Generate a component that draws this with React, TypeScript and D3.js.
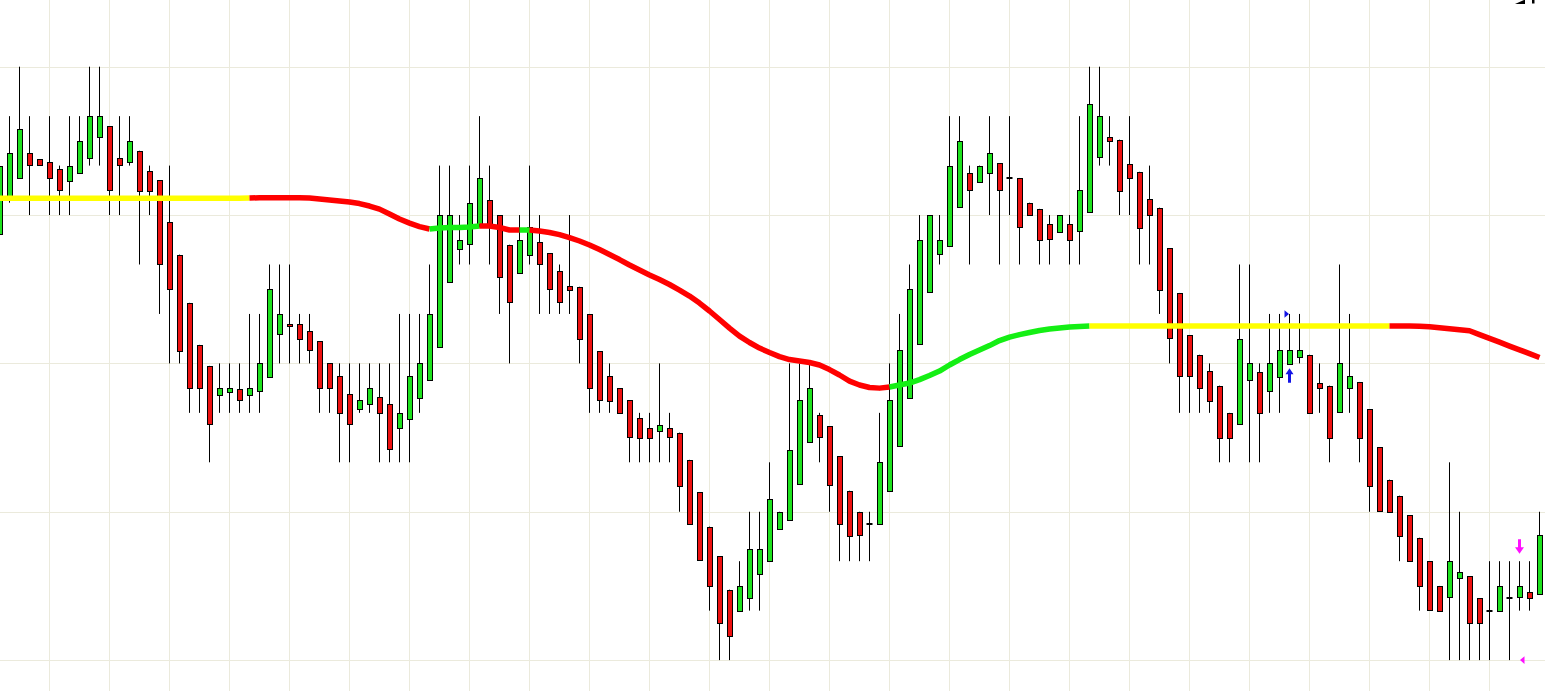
import React from 'react';
import * as d3 from 'd3';

const WIDTH = 1545;
const HEIGHT = 691;

// OHLC per bar, in price ticks (one horizontal grid step = 12 ticks)
const opens = [
  46.5, 49.5, 51, 53, 52.5, 52.3, 51.7, 50.8, 51.4, 52.6, 54.3, 55.2, 52.6, 52.3, 53.2, 51.6, 50.8, 47.4, 44.8, 40.9,
  37.5, 35.8, 33.4, 33.7, 33.9, 33.4, 33.7, 34.9, 38.4, 39.2, 39.2, 38.6, 37.8, 36, 35, 33.5, 32.3, 32.7, 33.3, 32.7,
  30.8, 31.5, 33.2, 34.7, 37.3, 42.6, 45.3, 45.7, 47.3, 49.2, 48, 45.6, 43.3, 44.7, 45.8, 44.9, 43.5, 42.3, 42.2, 40,
  37, 35, 34, 33, 31.6, 30.8, 30.5, 30.75, 30.4, 28.2, 25.6, 22.8, 20.4, 17.7, 16, 17, 19, 20, 22.6, 23.3,
  26.2, 29.6, 31.8, 30.9, 28.5, 25.7, 24, 23, 23, 25.6, 29.3, 33.2, 37.6, 41.8, 44.9, 45.5, 48.7, 51.4, 50.7, 51.4,
  52.2, 51, 51, 49, 48.5, 47.25, 46.6, 47.3, 46.7, 48.3, 52.7, 54.3, 54.1, 52.1, 51.5, 49.3, 48.6, 45.3, 41.7, 38.3,
  36.7, 35.4, 34.2, 32, 31.1, 34.6, 35.3, 33.7, 34.9, 36, 36.5, 36.7, 34.4, 34.2, 32, 34, 34.5, 32.3, 29.2, 26.6,
  25.3, 23.7, 21.9, 20, 18, 17.1, 18.6, 18.8, 17, 16, 16, 17, 17.1, 17.5, 17.3,
];
const highs = [
  52, 56, 60, 56, 52.5, 56, 52, 56, 56, 60, 60, 55.2, 56, 56, 53.2, 52, 50.8, 52, 44.8, 40.9,
  37.5, 35.8, 36, 36, 36, 40, 40, 44, 44, 44, 40, 40, 37.8, 36, 36, 36, 36, 36, 36, 36,
  40, 40, 40, 44, 52, 52, 48, 52, 56, 52, 48, 45.6, 48, 52, 48, 44.9, 44, 48, 42.2, 40,
  37, 36, 34, 33, 32, 32, 36, 32, 30.4, 28.2, 25.6, 22.8, 20.4, 17.7, 20, 24, 24, 28, 24, 36,
  36, 36, 32, 30.9, 28.5, 25.7, 24, 24, 32, 36, 40, 44, 48, 48, 48, 56, 56, 52, 52, 56,
  52.2, 56, 51, 49, 48.5, 48, 48, 48, 56, 60, 60, 56, 54.1, 56, 51.5, 52, 48.6, 45.3, 41.7, 38.3,
  36.7, 36, 34.2, 32, 44, 44, 36, 40, 40, 40, 40, 36.7, 36, 34.2, 44, 40, 34.5, 32.3, 29.2, 26.6,
  25.3, 23.7, 21.9, 20, 18, 28, 24, 18.8, 17, 20, 20, 20, 20, 20, 24,
];
const lows = [
  46.5, 49, 51, 48, 52, 48, 48, 48, 51.4, 52, 52, 48, 48, 52, 44, 48, 40, 36, 36, 32,
  32, 28, 32, 32, 32, 32, 32, 34.9, 36, 36, 36, 36, 32, 32, 28, 28, 32, 32, 28, 28,
  28, 28, 32, 34.7, 37.3, 42.6, 44, 44, 47, 44, 40, 36, 43.3, 44, 40, 40, 40, 40, 36, 32,
  32, 32, 32, 28, 28, 28, 28, 28, 24, 23, 20.1, 16, 12, 12, 16, 16, 16, 20, 22.6, 23.3,
  26.2, 29.6, 28, 24, 20, 20, 20, 20, 23, 25.6, 29.3, 33.2, 37.6, 41.8, 44, 45.5, 48.7, 44, 50.7, 48,
  44, 48, 44, 48, 44, 44, 46.6, 44, 44, 48.3, 52, 52, 48, 48, 44, 44, 40, 36, 32, 32,
  32, 32, 28, 28, 31.1, 28, 28, 32, 32, 36, 36, 32, 32, 28, 32, 32, 28, 24, 24, 24,
  20, 20, 16, 16, 16, 12, 12, 12, 12, 12, 16, 12, 16, 16, 17.3,
];
const closes = [
  52, 53, 55, 52, 52, 51, 50, 52, 54, 56, 56, 50, 52, 54, 50, 50, 44, 42, 37, 34,
  34, 31.1, 34, 34, 33, 34, 36, 42, 40, 39, 38, 37.1, 34, 34, 32, 31.1, 33, 34, 32, 29.1,
  32, 35, 36, 40, 48, 48, 46, 49, 51, 47, 43, 41, 46, 47, 44, 42, 41, 42, 38, 34,
  33, 33, 32, 30, 30, 30, 31, 30, 26.1, 23, 20.1, 18, 15, 14, 18, 21, 21, 25, 24, 29,
  33, 34, 30, 26.1, 23, 22.1, 22.1, 23, 28, 33, 37.1, 42, 46, 48, 46, 52, 54, 50, 52, 53,
  50, 51, 47, 48, 46, 46, 48, 46, 50, 57, 56, 54, 50, 51, 47, 48, 42, 38, 35, 35,
  34, 33, 30, 30, 38, 36, 32, 36, 37.1, 37.1, 37.1, 32, 34, 30, 36, 35, 30, 26.1, 24, 24,
  22.1, 20, 18, 16, 16, 20, 19.1, 15, 15, 16, 18, 17, 18, 17, 22.1,
];

// moving average value per bar
const maValues = [
  49.35, 49.35, 49.35, 49.35, 49.35, 49.35, 49.35, 49.35, 49.35, 49.35, 49.35, 49.35, 49.35, 49.35, 49.35, 49.35,
  49.35, 49.35, 49.35, 49.35, 49.35, 49.35, 49.35, 49.35, 49.35, 49.38, 49.4, 49.4, 49.4, 49.4, 49.4, 49.38,
  49.3, 49.22, 49.13, 49.05, 48.93, 48.73, 48.48, 48.08, 47.68, 47.35, 47.07, 46.87, 46.95, 46.99, 46.99, 47.03,
  47.11, 47.11, 46.99, 46.79, 46.79, 46.79, 46.71, 46.59, 46.42, 46.18, 45.9, 45.58, 45.21, 44.81, 44.4, 43.96,
  43.55, 43.15, 42.78, 42.38, 41.93, 41.45, 40.88, 40.24, 39.55, 38.86, 38.21, 37.69, 37.24, 36.88, 36.55, 36.31,
  36.19, 36.07, 35.87, 35.5, 35.06, 34.57, 34.25, 34.05, 34.0, 34.09, 34.25, 34.41, 34.69, 35.02, 35.38, 35.87,
  36.31, 36.72, 37.08, 37.44, 37.85, 38.13, 38.33, 38.5, 38.66, 38.78, 38.86, 38.94, 38.98, 39.02, 39.02, 39.02,
  39.02, 39.02, 39.02, 39.02, 39.02, 39.02, 39.02, 39.02, 39.02, 39.02, 39.02, 39.02, 39.02, 39.02, 39.02, 39.02,
  39.02, 39.02, 39.02, 39.02, 39.02, 39.02, 39.02, 39.02, 39.02, 39.02, 39.02, 39.02, 39.02, 39.02, 39.0, 38.97,
  38.89, 38.81, 38.72, 38.64, 38.33, 38.03, 37.72, 37.4, 37.1, 36.79, 36.48,
];

// bar index where the MA trend state changes
const trendStarts = [0, 25, 43, 48, 52, 53, 89, 109, 139];
const trendStates = ['flat', 'down', 'up', 'down', 'up', 'down', 'up', 'flat', 'down'];

const gridPrices = [12, 24, 36, 48, 60];
const gridBarStep = 6;
const gridBarFirst = 5;

// signal markers
const signalBars = [129, 129, 152, 152];
const signalPrices = [35, 40, 21.2, 12];
const signalKinds = ['arrowUp', 'markRight', 'arrowDown', 'markLeft'];

const trendColor: Record<string, string> = { flat: '#ffff00', down: '#ff0000', up: '#14ef14' };
const UP_COLOR = '#1ee21e';
const DOWN_COLOR = '#ee1010';

const App = () => {
  const x = d3.scaleLinear().domain([0, 154]).range([-0.5, 1539.5]);
  const y = d3.scaleLinear().domain([12, 60]).range([660.1, 66.7]);

  const bars = d3.range(opens.length);
  const gridBars = d3.range(gridBarFirst, bars.length, gridBarStep);

  const line = d3
    .line<number>()
    .x(i => x(i))
    .y(i => y(maValues[i]))
    .curve(d3.curveLinear);

  const runs = trendStarts.map((start, i) => {
    const end = i + 1 < trendStarts.length ? trendStarts[i + 1] : maValues.length - 1;
    return { idx: d3.range(start, end + 1), color: trendColor[trendStates[i]] };
  });

  const marker = (kind: string, cx: number, cy: number, key: number) => {
    if (kind === 'arrowUp') {
      return (
        <path key={key} fill="#1414e6"
          d={`M${cx},${cy - 7.5}L${cx + 4},${cy - 1.5}L${cx + 1.5},${cy - 1.5}L${cx + 1.5},${cy + 7}L${cx - 1.5},${cy + 7}L${cx - 1.5},${cy - 1.5}L${cx - 4},${cy - 1.5}Z`} />
      );
    }
    if (kind === 'arrowDown') {
      return (
        <path key={key} fill="#ff10ff"
          d={`M${cx},${cy + 7.5}L${cx + 4.5},${cy + 1}L${cx + 1.5},${cy + 1}L${cx + 1.5},${cy - 7}L${cx - 1.5},${cy - 7}L${cx - 1.5},${cy + 1}L${cx - 4.5},${cy + 1}Z`} />
      );
    }
    if (kind === 'markRight') {
      return <path key={key} fill="#1414e6" d={`M${cx - 0.5},${cy}L${cx - 5},${cy - 3.8}L${cx - 5},${cy + 3.8}Z`} />;
    }
    return <path key={key} fill="#ff10ff" d={`M${cx + 0.5},${cy}L${cx + 5},${cy - 3.8}L${cx + 5},${cy + 3.8}Z`} />;
  };

  return (
    <svg width={WIDTH} height={HEIGHT} style={{ position: 'absolute', left: 0, top: 0, background: '#fff', display: 'block' }}>
      <rect x={0} y={0} width={WIDTH} height={HEIGHT} fill="#ffffff" />
      <g stroke="#ebeadc" strokeWidth={1}>
        {gridPrices.map(p => (
          <line key={`h${p}`} x1={0} x2={WIDTH} y1={Math.round(y(p)) + 0.5} y2={Math.round(y(p)) + 0.5} />
        ))}
        {gridBars.map(b => (
          <line key={`v${b}`} x1={x(b)} x2={x(b)} y1={0} y2={HEIGHT} />
        ))}
      </g>

      <g>
        {bars.map(i => {
          const cx = x(i);
          const o = opens[i];
          const c = closes[i];
          const top = y(Math.max(o, c));
          const bot = y(Math.min(o, c));
          return (
            <g key={i}>
              <line x1={cx} x2={cx} y1={y(highs[i])} y2={y(lows[i])} stroke="#000" strokeWidth={1} />
              {o === c ? (
                <line x1={cx - 3} x2={cx + 3} y1={Math.round(top)} y2={Math.round(top)} stroke="#000" strokeWidth={2} />
              ) : (
                <rect x={cx - 2.5} y={Math.round(top)} width={5} height={Math.max(1, Math.round(bot - top))}
                  fill={c > o ? UP_COLOR : DOWN_COLOR} stroke="#000" strokeWidth={1} shapeRendering="crispEdges" />
              )}
            </g>
          );
        })}
      </g>

      <g fill="none" strokeWidth={5.5} strokeLinecap="butt" strokeLinejoin="round">
        {runs.map((r, i) => (
          <path key={i} d={line(r.idx) || ''} stroke={r.color} />
        ))}
      </g>

      <g>
        {signalBars.map((b, i) => marker(signalKinds[i], x(b), y(signalPrices[i]), i))}
      </g>

      <g fill="#000">
        <path d="M1515,4L1524,0L1525,0L1525,4Z" />
        <rect x={1532} y={0} width={2.5} height={3.5} />
      </g>
    </svg>
  );
};

export default App;
